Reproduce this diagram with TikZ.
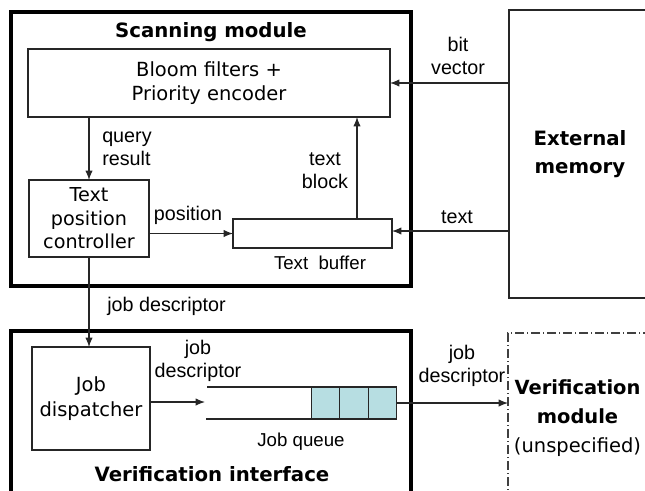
\documentclass[tikz,border=0pt]{standalone}
\usepackage{fontspec}
\setmainfont{Liberation Sans}
\newfontfamily\vfont{DejaVu Sans}
\usetikzlibrary{arrows.meta,calc}
\definecolor{qcyan}{RGB}{183,222,226}

\begin{document}
\begin{tikzpicture}[x=0.75pt,y=-0.75pt,
  sz/.style 2 args={minimum width=#1*0.75pt, minimum height=#2*0.75pt},
  blk/.style={draw=black!85, line width=0.9pt, inner sep=0pt, outer sep=0pt, align=center,
    font=\vfont\fontsize{14.6}{18}\selectfont},
  module/.style={draw, line width=3pt, inner sep=0pt, outer sep=0pt},
  title/.style={font=\vfont\bfseries\fontsize{14.8}{18}\selectfont, inner sep=0pt, align=center},
  lbl/.style={font=\fontsize{14.8}{17.3}\selectfont, align=center, inner sep=0pt},
  small/.style={font=\fontsize{14}{16}\selectfont, inner sep=0pt},
  arr/.style={draw=black!85, line width=0.9pt, -{Latex[length=7pt,width=5.5pt]}},
  ln/.style={draw=black!85, line width=0.9pt},
  cell/.style={draw=black!85, line width=0.9pt, fill=qcyan, sz={28.5}{32}, inner sep=0pt, outer sep=0pt},
  dashdot/.style={draw=black!75, line width=0.9pt, dash pattern=on 7pt off 2pt on 1pt off 2pt}]
\useasboundingbox (0,0) rectangle (645,490);
\clip (0,0) rectangle (645,490);

% Module frames
\node[module, sz={400}{274}] (scan) at (210.5,148.6) {};
\node[title] (scantitle) at (211,32) {Scanning module};
\node[module, sz={400}{169}] (vif) at (210.5,415.5) {};
\node[title] (viftitle) at (212,474) {Verification interface};

% Scanning module blocks
\node[blk, sz={362}{68}] (bloom) at (209,83) {Bloom filters +\\Priority encoder};
\node[blk, sz={120}{77}, font=\vfont\fontsize{14.4}{17.6}\selectfont] (tpc) at (89,218.5) {Text\\position\\controller};
\node[blk, sz={159}{29}] (buf) at (312.5,233.5) {};
\node[small] (buflbl) at (320,263) {Text\ \ buffer};

% External memory
\node[blk, sz={142}{288}, font=\vfont\bfseries\fontsize{14.8}{21.5}\selectfont] (ext) at (580,154) {External\\memory};

% Verification interface blocks
\node[blk, sz={118}{103}, font=\vfont\fontsize{14.6}{18.5}\selectfont] (jd) at (91,398.5) {Job\\dispatcher};
\node[cell] (c1) at (325.5,403) {};
\node[cell] (c2) at (354,403) {};
\node[cell] (c3) at (382.5,403) {};
\coordinate (qtop) at (207,387);
\coordinate (qbot) at (206,419);
\coordinate (qin) at (205,402);
\path[ln] (qtop) -- (c1.north west);
\path[ln] (qbot) -- (c1.south west);
\node[small] (qlbl) at (301,442) {Job queue};

% Verification module (left open)
\node[dashdot, sz={139}{170}, inner sep=0pt, outer sep=0pt, align=center,
  font=\vfont\fontsize{14.6}{21.8}\selectfont] (vmod) at (577.5,418)
  {\bfseries Verification\\\bfseries module\\(unspecified)};

% Connectors
\draw[arr] (tpc.north |- bloom.south) -- (tpc.north);
\node[lbl, anchor=west, align=left] (qr) at (102,148.5) {query\\result};

\draw[arr] (tpc.east |- buf.west) -- (buf.west);
\node[lbl] (poslbl) at (188,215) {position};

\coordinate (tbx) at ($(buf.north)+(44.5,0)$);
\draw[arr] (tbx) -- (tbx |- bloom.south);
\node[lbl] (tblbl) at (325,171) {text\\block};

\draw[arr] (ext.west |- bloom.east) -- (bloom.east);
\node[lbl] (bvlbl) at (458,56) {bit\\vector};

\draw[arr] (ext.west |- 0,231) -- (buf.east |- 0,231);
\node[lbl] (txtlbl) at (457,217) {text};

\draw[arr] (tpc.south) -- (tpc.south |- jd.north);
\node[lbl, anchor=west] (jdlbl1) at (107,306) {job descriptor};

\draw[arr] (jd.east |- qin) -- (qin);
\node[lbl] (jdlbl2) at (198,361) {job\\descriptor};

\draw[arr] (c3.east) -- (vmod.west |- c3.east);
\node[lbl] (jdlbl3) at (462,366) {job\\descriptor};
\end{tikzpicture}
\end{document}
